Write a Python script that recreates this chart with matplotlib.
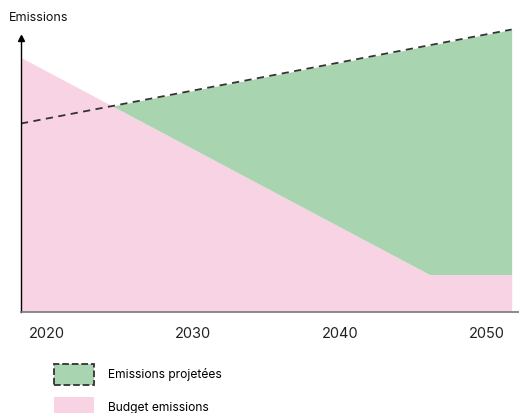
import matplotlib.pyplot as plt
from matplotlib.patches import Patch

GREEN = "#a8d5b0"
PINK = "#f8d3e4"
DARK = "#333333"

plt.rcParams["font.family"] = ["Inter", "DejaVu Sans"]

# values (arbitrary emission units)
years = [2018.26, 2046.1, 2051.7]
budget = [254, 37, 37]
projected = [188, 266, 282]
tick_years = [2020, 2030, 2040, 2050]
axis_top = 274

fig = plt.figure(figsize=(5.19, 4.13), dpi=100)
ax = fig.add_axes([21 / 519, (413 - 311.5) / 413, 498 / 519, (311.5 - 20) / 413])

ax.fill_between(years, 0, budget, color=PINK, linewidth=0)
ax.fill_between(
    years, budget, projected,
    where=[p > b for p, b in zip(projected, budget)],
    interpolate=True, color=GREEN, linewidth=0,
)
ax.plot(years[::2], projected[::2], color=DARK, linestyle=(0, (4, 3)), linewidth=1.3)

ax.set_xlim(2018.26, 2052.2)
ax.set_ylim(0, 291.5)
ax.set_xticks(tick_years)
ax.set_xticklabels([str(y) for y in tick_years], fontsize=10.5)
ax.tick_params(axis="x", length=0, pad=11, colors="#222222")
ax.set_yticks([])

for side in ["top", "right"]:
    ax.spines[side].set_visible(False)
ax.spines["left"].set_color("black")
ax.spines["left"].set_linewidth(1.0)
ax.spines["left"].set_bounds(0, axis_top)
ax.spines["bottom"].set_color("#777777")
ax.spines["bottom"].set_linewidth(1.2)
ax.plot(2018.26, axis_top, marker="^", color="black", markersize=5, clip_on=False)

fig.text(9 / 519, 1 - 18 / 413, "Emissions", fontsize=9, va="center", ha="left", color="#111111")

handles = [
    Patch(facecolor=GREEN, edgecolor=DARK, linestyle="--", linewidth=1.3, label="Emissions projetées"),
    Patch(facecolor=PINK, edgecolor="none", label="Budget emissions"),
]
fig.legend(
    handles=handles, loc="upper left", bbox_to_anchor=(54 / 519, 1 - 364 / 413),
    frameon=False, fontsize=8.7, handlelength=3.3, handleheight=2.3,
    handletextpad=1.15, labelspacing=0.95, borderpad=0, borderaxespad=0,
)

fig.savefig("out.png", dpi=100)
